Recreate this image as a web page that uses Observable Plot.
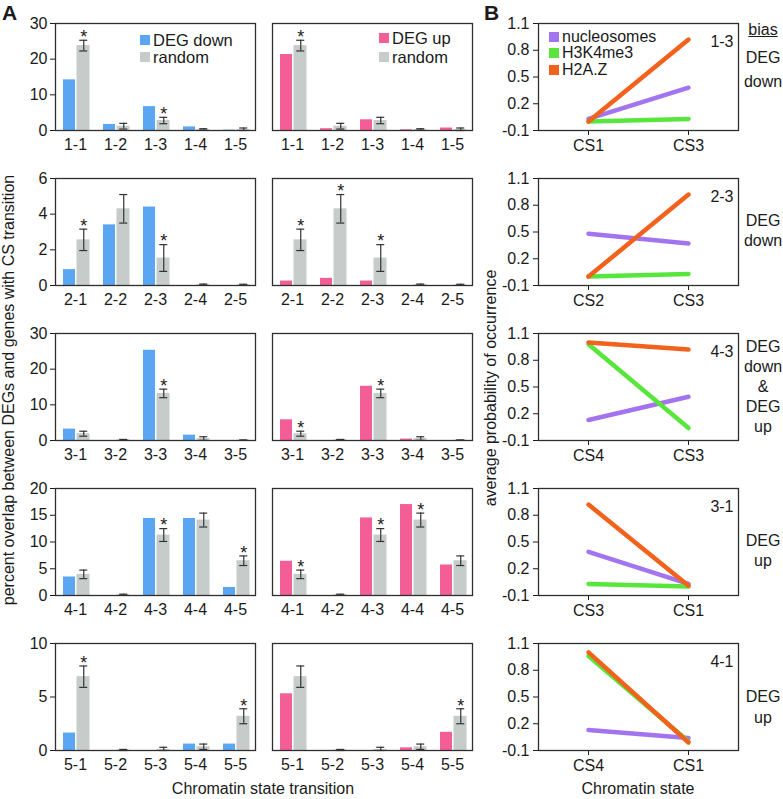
<!DOCTYPE html>
<html>
<head>
<meta charset="utf-8">
<script src="https://cdn.jsdelivr.net/npm/d3@7"></script>
<script src="https://cdn.jsdelivr.net/npm/@observablehq/plot@0.6"></script>
<style>
  body { margin: 0; background: white; }
  #fig { position: relative; width: 783px; height: 799px; background: white; overflow: hidden;
         font-family: "Liberation Sans", Arial, sans-serif; color: #1a1a1a; }
  .lbl { position: absolute; white-space: nowrap; font-size: 16px; line-height: 1; }
  .c { transform: translate(-50%, -50%); }
  .sq { position: absolute; width: 10px; height: 10px; }
</style>
</head>
<body>
<div id="fig"></div>
<script>
// ---------------- Panel A data ----------------
const rowCats = [
  ["1-1", "1-2", "1-3", "1-4", "1-5"],
  ["2-1", "2-2", "2-3", "2-4", "2-5"],
  ["3-1", "3-2", "3-3", "3-4", "3-5"],
  ["4-1", "4-2", "4-3", "4-4", "4-5"],
  ["5-1", "5-2", "5-3", "5-4", "5-5"]
];
const degDown = [
  [14.2, 1.7, 6.7, 1.0, 0.1],
  [0.89, 3.4, 4.4, 0, 0],
  [3.2, 0, 25.3, 1.5, 0],
  [3.46, 0, 14.4, 14.4, 1.5],
  [1.63, 0, 0, 0.6, 0.6]
];
const degUp = [
  [21.3, 0.5, 3.0, 0.2, 0.7],
  [0.25, 0.4, 0.25, 0, 0],
  [5.8, 0, 15.2, 0.4, 0],
  [6.4, 0, 14.5, 17.0, 5.7],
  [5.3, 0, 0, 0.25, 1.7]
];
const randomMean = [
  [23.8, 1.2, 2.8, 0.3, 0.3],
  [2.56, 4.3, 1.54, 0.05, 0.04],
  [1.9, 0.2, 13.2, 0.55, 0.1],
  [3.95, 0.15, 11.3, 14.1, 6.5],
  [6.9, 0.05, 0.1, 0.35, 3.2]
];
const randomErr = [
  [1.5, 0.8, 0.9, 0.2, 0.4],
  [0.6, 0.8, 0.75, 0.03, 0.03],
  [0.7, 0.1, 1.2, 0.5, 0.05],
  [0.8, 0.1, 1.2, 1.3, 0.9],
  [1.0, 0.05, 0.2, 0.25, 0.7]
];
const downStars = [
  [1, 0, 1, 0, 0],
  [1, 0, 1, 0, 0],
  [0, 0, 1, 0, 0],
  [0, 0, 1, 0, 1],
  [1, 0, 0, 0, 1]
];
const upStars = [
  [1, 0, 0, 0, 0],
  [1, 1, 1, 0, 0],
  [1, 0, 1, 0, 0],
  [1, 0, 1, 1, 0],
  [0, 0, 0, 0, 1]
];
const yMax = [30, 6, 30, 20, 10];
const yTicks = [[0, 10, 20, 30], [0, 2, 4, 6], [0, 10, 20, 30], [0, 5, 10, 15, 20], [0, 5, 10]];

// ---------------- Panel B data ----------------
const transitions = ["1-3", "2-3", "4-3", "3-1", "4-1"];
const bStates = [["CS1", "CS3"], ["CS2", "CS3"], ["CS4", "CS3"], ["CS3", "CS1"], ["CS4", "CS1"]];
const seriesNames = ["nucleosomes", "H3K4me3", "H2A.Z"];
const nucleosomes = [[0.03, 0.38], [0.48, 0.37], [0.13, 0.39], [0.39, 0.03], [0.13, 0.04]];
const h3k4me3 = [[0.0, 0.03], [0.0, 0.03], [0.98, 0.04], [0.03, 0.0], [0.96, 0.0]];
const h2az = [[0.0, 0.92], [0.0, 0.92], [1.0, 0.92], [0.92, 0.01], [1.0, -0.01]];
const bTicks = [-0.1, 0.2, 0.5, 0.8, 1.1];
const biasLabels = [["DEG", "down"], ["DEG", "down"], ["DEG", "down", "&", "DEG", "up"], ["DEG", "up"], ["DEG", "up"]];

// ---------------- Styling ----------------
const BLUE = "#5ba6f2", PINK = "#f45e97", GRAY = "#c6ccc9";
const PURPLE = "#a374f0", GREEN = "#58e63c", ORANGE = "#f2621c";
const FRAME = "#2e2e2e";
const FONT = "'Liberation Sans', Arial, sans-serif";
const rowTops = [23, 178, 333, 488, 643];
const PH = 107;  // plot-area height
const fig = document.getElementById("fig");

function place(el, left, top) {
  el.style.position = "absolute";
  el.style.left = left + "px";
  el.style.top = top + "px";
  fig.appendChild(el);
}
function label(text, x, y, opts = {}) {
  const d = document.createElement("div");
  d.className = "lbl" + (opts.center === false ? "" : " c");
  d.textContent = text;
  d.style.left = x + "px";
  d.style.top = y + "px";
  if (opts.size) d.style.fontSize = opts.size + "px";
  if (opts.weight) d.style.fontWeight = opts.weight;
  if (opts.underline) d.style.textDecoration = "underline";
  if (opts.rotate) d.style.transform = "translate(-50%, -50%) rotate(-90deg)";
  fig.appendChild(d);
}
function square(color, x, y, s = 10) {
  const d = document.createElement("div");
  d.className = "sq";
  d.style.background = color;
  d.style.left = x + "px";
  d.style.top = y + "px";
  d.style.width = s + "px";
  d.style.height = s + "px";
  fig.appendChild(d);
}

function barChart(r, isDown) {
  const vals = isDown ? degDown[r] : degUp[r];
  const stars = isDown ? downStars[r] : upStars[r];
  const data = rowCats[r].map((c, i) => ({
    cat: c, v: vals[i], rnd: randomMean[r][i], err: randomErr[r][i], star: stars[i]
  }));
  const mL = isDown ? 55 : 5;
  const cap = { insetLeft: 24.25, insetRight: 7.75, stroke: "#333", strokeWidth: 1.2 };
  const chart = Plot.plot({
    width: mL + 200 + 5,
    height: 20 + PH + 30,
    marginLeft: mL, marginRight: 5, marginTop: 20, marginBottom: 30,
    style: { background: "none", overflow: "visible", fontFamily: FONT, fontSize: "16px", color: "#1a1a1a" },
    x: { type: "band", domain: rowCats[r], padding: 0, tickSize: 0, tickPadding: 8, label: null },
    y: { domain: [0, yMax[r]], ticks: yTicks[r], tickFormat: d => String(d), tickSize: 5, tickPadding: 3, label: null, axis: isDown ? "left" : null },
    marks: [
      Plot.barY(data, { x: "cat", y: "v", fill: isDown ? BLUE : PINK, insetLeft: 8, insetRight: 20 }),
      Plot.barY(data, { x: "cat", y: "rnd", fill: GRAY, insetLeft: 21.5, insetRight: 5.5 }),
      Plot.ruleX(data, { x: "cat", y1: d => Math.max(0, d.rnd - d.err), y2: d => d.rnd + d.err, dx: 8.25, stroke: "#333", strokeWidth: 1.2 }),
      Plot.tickY(data, { x: "cat", y: d => d.rnd + d.err, ...cap }),
      Plot.tickY(data, { x: "cat", y: d => Math.max(0, d.rnd - d.err), ...cap }),
      Plot.text(data.filter(d => d.star), { x: "cat", y: d => d.rnd + d.err, text: () => "*", dx: 8.25, dy: -3, fontSize: 18, fill: "#1a1a1a" }),
      Plot.frame({ stroke: FRAME, strokeWidth: 1.3 })
    ]
  });
  place(chart, (isDown ? 55 : 272) - mL, rowTops[r] - 20);
}

function lineChart(r) {
  const states = bStates[r];
  const src = [nucleosomes[r], h3k4me3[r], h2az[r]];
  const data = seriesNames.flatMap((s, k) => states.map((st, i) => ({ series: s, state: st, v: src[k][i] })));
  const chart = Plot.plot({
    width: 50 + 200 + 5,
    height: 20 + PH + 30,
    marginLeft: 50, marginRight: 5, marginTop: 20, marginBottom: 30,
    style: { background: "none", overflow: "visible", fontFamily: FONT, fontSize: "16px", color: "#1a1a1a" },
    x: { type: "point", domain: states, padding: 0.5, tickSize: 5, tickPadding: 4, label: null },
    y: { domain: [-0.1, 1.1], ticks: bTicks, tickFormat: d => d.toFixed(1), tickSize: 5, tickPadding: 4, label: null },
    color: { domain: seriesNames, range: [PURPLE, GREEN, ORANGE] },
    marks: [
      Plot.line(data, { x: "state", y: "v", z: "series", stroke: "series", strokeWidth: 4.5, strokeLinecap: "round" }),
      Plot.text([transitions[r]], { frameAnchor: "top-right", text: d => d, dx: -5, dy: 12, fontSize: 16, fill: "#1a1a1a" }),
      Plot.frame({ stroke: FRAME, strokeWidth: 1.3 })
    ]
  });
  place(chart, 538 - 50, rowTops[r] - 20);
}

for (let r = 0; r < 5; r++) {
  barChart(r, true);
  barChart(r, false);
  lineChart(r);
}

// Panel letters
label("A", 2, 2, { center: false, size: 21, weight: "bold" });
label("B", 484, 2, { center: false, size: 21, weight: "bold" });

// Legends, panel A
square(BLUE, 140, 35); label("DEG down", 153, 31.5, { center: false, size: 16.5 });
square(GRAY, 140, 52); label("random", 153, 48.5, { center: false, size: 16.5 });
square(PINK, 379, 33); label("DEG up", 392, 29.5, { center: false, size: 16.5 });
square(GRAY, 379, 52); label("random", 392, 48.5, { center: false, size: 16.5 });

// Legend, panel B
square(PURPLE, 549, 32); label("nucleosomes", 562, 28.5, { center: false, size: 16 });
square(GREEN, 549, 48); label("H3K4me3", 562, 45, { center: false, size: 16 });
square(ORANGE, 549, 65); label("H2A.Z", 562, 61.5, { center: false, size: 16 });

// Axis titles
label("percent overlap between DEGs and genes with CS transition", 9, 390, { rotate: true });
label("Chromatin state transition", 263, 789);
label("average probability of occurrence", 491, 388, { rotate: true });
label("Chromatin state", 638, 789);

// Bias column
label("bias", 763, 30, { underline: true });
const biasY = [[58, 82], [221, 241], [347, 367, 387, 407, 427], [541, 561], [697, 718]];
biasLabels.forEach((lines, r) => lines.forEach((t, i) => label(t, 763, biasY[r][i])));
</script>
</body>
</html>
